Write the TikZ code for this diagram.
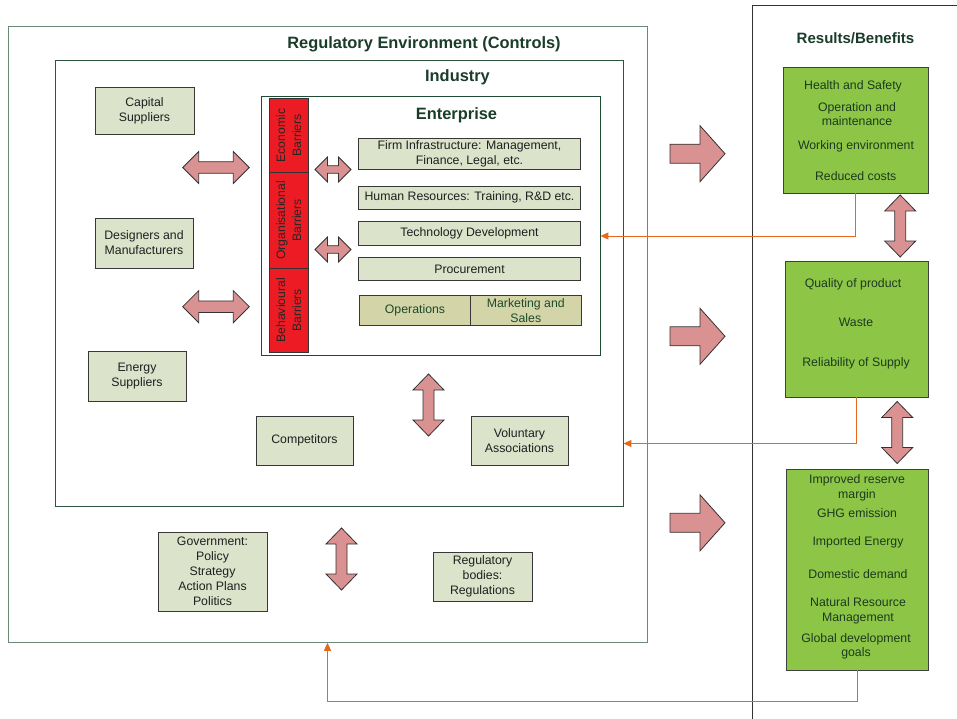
\documentclass[tikz,border=0pt]{standalone}
\usepackage{fontspec}
\setmainfont{Liberation Sans}
\usetikzlibrary{arrows.meta}
\definecolor{boxfill}{HTML}{DCE3CB}
\definecolor{opfill}{HTML}{D3D4A8}
\definecolor{barred}{HTML}{ED1C24}
\definecolor{gfill}{HTML}{8DC647}
\definecolor{gtextc}{HTML}{1C3A1E}
\definecolor{arrowfill}{HTML}{D99191}
\definecolor{connorange}{HTML}{E3691F}
\definecolor{titlegreen}{HTML}{1A3C2A}
\definecolor{regframe}{HTML}{6A8A76}
\definecolor{indframe}{HTML}{2F5540}
\definecolor{entframe}{HTML}{1F4A33}
\definecolor{optext}{HTML}{1F4A2A}
\tikzset{
  sbox/.style={draw=black!78, fill=boxfill, line width=0.9pt, inner sep=0pt, align=center,
    font=\fontsize{12.3}{15}\selectfont, text=black!88},
  obox/.style={sbox, fill=opfill, text=optext},
  frame/.style={draw, inner sep=0pt, line width=0.9pt},
  gbox/.style={draw=black!75, fill=gfill, line width=0.9pt, inner sep=0pt},
  gtext/.style={text=gtextc, font=\fontsize{12.3}{14.7}\selectfont, align=center, inner sep=0pt},
  barbox/.style={draw=black!80, fill=barred, line width=0.9pt, inner sep=0pt, rotate=90,
    align=center, font=\fontsize{12.2}{16}\selectfont, text=black!85},
  titletext/.style={text=titlegreen, font=\bfseries\fontsize{16.4}{19}\selectfont, inner sep=0pt},
  conn/.style={draw=connorange, line width=1pt, -{Triangle[length=8pt,width=7pt]}},
  arrowshape/.style={draw=black!80, fill=arrowfill, line width=0.8pt, line join=miter},
  pics/hdarrow/.style n args={4}{code={
    \draw[arrowshape] (-#1,0) -- (-#1+#4,#2) -- (-#1+#4,#3) -- (#1-#4,#3) -- (#1-#4,#2) -- (#1,0)
      -- (#1-#4,-#2) -- (#1-#4,-#3) -- (-#1+#4,-#3) -- (-#1+#4,-#2) -- cycle;}},
  pics/vdarrow/.style n args={4}{code={
    \draw[arrowshape] (0,-#1) -- (#2,-#1+#4) -- (#3,-#1+#4) -- (#3,#1-#4) -- (#2,#1-#4) -- (0,#1)
      -- (-#2,#1-#4) -- (-#3,#1-#4) -- (-#3,-#1+#4) -- (-#2,-#1+#4) -- cycle;}},
  pics/rarrow/.style={code={
    \draw[arrowshape] (0,-9.5) -- (30,-9.5) -- (30,-28) -- (55,0) -- (30,28) -- (30,9.5) -- (0,9.5) -- cycle;}}
}
\begin{document}
\begin{tikzpicture}[x=1pt,y=-1pt]
\clip (0,0) rectangle (957,719);
\fill[white] (0,0) rectangle (957,719);

% frames
\node[frame, draw=regframe, minimum width=638.7pt, minimum height=615.6pt] (reg) at (327.65,334.5) {};
\node[frame, draw=indframe, minimum width=568pt, minimum height=445.3pt] (ind) at (339,283.35) {};
\node[frame, draw=entframe, minimum width=338.3pt, minimum height=259.7pt] (ent) at (430.85,225.85) {};
\node[frame, draw=black!80, line width=1pt, minimum width=207pt, minimum height=730pt] (res) at (856.2,370.7) {};

% titles
\node[titletext] (regt) at (424,44) {Regulatory Environment (Controls)};
\node[titletext] (indt) at (457.5,77) {Industry};
\node[titletext] (entt) at (456.5,115) {Enterprise};
\node[titletext, font=\bfseries\fontsize{15}{18}\selectfont] (rest) at (855.5,38) {Results/Benefits};

% left boxes
\node[sbox, minimum width=99pt, minimum height=47pt] (cap) at (144.5,110.5) {Capital\\Suppliers};
\node[sbox, minimum width=98pt, minimum height=50pt] (des) at (144,243) {Designers and\\Manufacturers};
\node[sbox, minimum width=98pt, minimum height=50pt] (energy) at (137,376) {Energy\\Suppliers};
\node[sbox, minimum width=97pt, minimum height=49pt] (comp) at (304.5,440.5) {Competitors};
\node[sbox, minimum width=97pt, minimum height=49pt] (vol) at (519.5,440.5) {Voluntary\\Associations};
\node[sbox, minimum width=109pt, minimum height=79pt] (gov) at (212.5,571.5) {Government:\\Policy\\Strategy\\Action Plans\\Politics};
\node[sbox, minimum width=99pt, minimum height=49pt] (regb) at (482.5,576.5) {Regulatory\\bodies:\\Regulations};

% enterprise boxes
\node[sbox, minimum width=222.4pt, minimum height=31pt] (firm) at (469.5,153.8) {Firm Infrastructure: Management,\\Finance, Legal, etc.};
\node[sbox, minimum width=222.4pt, minimum height=23pt] (hr) at (469.5,197.5) {Human Resources: Training, R\&D etc.};
\node[sbox, minimum width=222.4pt, minimum height=23.6pt] (tech) at (469.5,233.5) {Technology Development};
\node[sbox, minimum width=222.4pt, minimum height=23pt] (proc) at (469.5,269.2) {Procurement};
\node[obox, minimum width=111.4pt, minimum height=29.3pt] (ops) at (415,310.3) {Operations};
\node[obox, minimum width=110.3pt, minimum height=29.3pt] (mkt) at (525.8,310.3) {Marketing and\\Sales};

% barriers
\node[barbox, minimum width=74.4pt, minimum height=39pt] (econ) at (288.8,135.5) {Economic\\Barriers};
\node[barbox, minimum width=95.6pt, minimum height=39pt] (org) at (288.8,220.5) {Organisational\\Barriers};
\node[barbox, minimum width=84pt, minimum height=39pt] (beh) at (288.8,310.3) {Behavioural\\Barriers};

% green result boxes
\node[gbox, minimum width=145pt, minimum height=126pt] (g1) at (855.5,130) {};
\node[gbox, minimum width=143pt, minimum height=136pt] (g2) at (856.5,329) {};
\node[gbox, minimum width=142pt, minimum height=201pt] (g3) at (857,569.5) {};

\node[gtext] (g1a) at (853,86) {Health and Safety};
\node[gtext] (g1b) at (857,114) {Operation and\\maintenance};
\node[gtext] (g1c) at (856,146) {Working environment};
\node[gtext] (g1d) at (855.7,176) {Reduced costs};

\node[gtext] (g2a) at (853,284.3) {Quality of product};
\node[gtext] (g2b) at (856,322) {Waste};
\node[gtext] (g2c) at (856,363.7) {Reliability of Supply};

\node[gtext] (g3a) at (857,488) {Improved reserve\\margin};
\node[gtext] (g3b) at (857,513.3) {GHG emission};
\node[gtext] (g3c) at (858,542.7) {Imported Energy};
\node[gtext] (g3d) at (858,574.3) {Domestic demand};
\node[gtext] (g3e) at (858,610.8) {Natural Resource\\Management};
\node[gtext] (g3f) at (856,646.4) {Global development\\goals};

% block arrows
\pic at (216,167.5) {hdarrow={33.3}{16}{5.8}{16}};
\pic at (216,306.7) {hdarrow={33.3}{16}{5.8}{16}};
\pic at (333,169.5) {hdarrow={18}{12.5}{3.8}{12.5}};
\pic at (333,249.5) {hdarrow={18}{12.5}{3.8}{12.5}};
\pic at (428.5,405) {vdarrow={31}{15.5}{5.5}{16}};
\pic at (341.5,559) {vdarrow={31}{15.5}{5.5}{16}};
\pic at (900.2,226) {vdarrow={31}{15.5}{5.5}{16}};
\pic at (897.2,432.5) {vdarrow={31}{15.5}{5.5}{16}};
\pic at (670,153.7) {rarrow};
\pic at (670,336.3) {rarrow};
\pic at (670,522.8) {rarrow};

% feedback connectors
\coordinate (c1) at (0,236);
\coordinate (c2) at (0,443.5);
\coordinate (c3) at (327.5,701.5);
\draw[conn] (g1.south) |- (ent.east |- c1);
\draw[conn] (g2.south) |- (ind.east |- c2);
\draw[conn] (g3.south) |- (c3) -- (reg.south -| c3);
\end{tikzpicture}
\end{document}
